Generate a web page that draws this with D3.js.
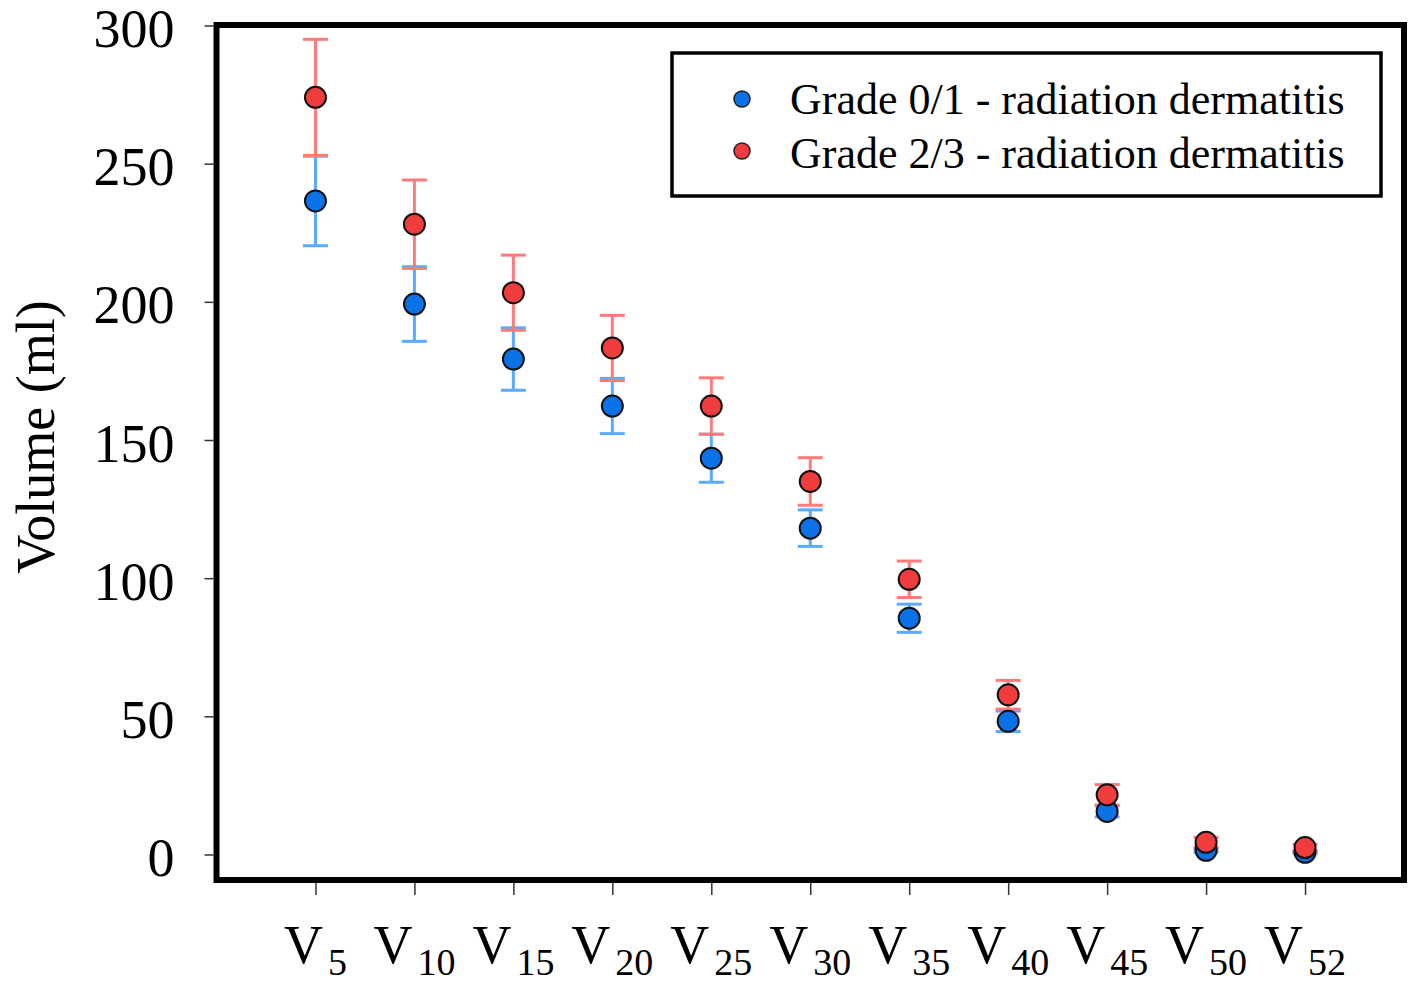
<!DOCTYPE html>
<html>
<head>
<meta charset="utf-8">
<script src="https://cdn.jsdelivr.net/npm/d3@7"></script>
<style>
  body { margin: 0; background: #fff; }
  text { font-family: "Liberation Serif", "Times New Roman", serif; fill: #000; }
</style>
</head>
<body>
<div id="chart"></div>
<script>
// categories: "V" + subscript
const categories = ["5", "10", "15", "20", "25", "30", "35", "40", "45", "50", "52"];
const yTicks = [0, 50, 100, 150, 200, 250, 300];

const seriesNames = ["Grade 0/1 - radiation dermatitis", "Grade 2/3 - radiation dermatitis"];
const grade01Mean = [236.5, 199.2, 179.3, 162.3, 143.4, 118.1, 85.5, 48.2, 15.6, 1.5, 0.8];
const grade01Err  = [16.2, 13.5, 11.3, 10.0, 8.7, 6.6, 5.1, 3.7, 2.0, 0.6, 0.4];
const grade23Mean = [274.0, 228.1, 203.3, 183.3, 162.3, 135.0, 99.6, 57.8, 21.6, 4.4, 2.5];
const grade23Err  = [21.0, 16.0, 13.6, 11.8, 10.2, 8.6, 6.6, 5.2, 3.7, 1.8, 1.2];

const width = 1411, height = 985;
const frame = { left: 216.5, right: 1404, top: 25, bottom: 880 };

const svg = d3.select("#chart")
    .append("svg")
    .attr("width", width)
    .attr("height", height);

const x = d3.scalePoint()
    .domain(categories)
    .range([frame.left, frame.right])
    .padding(1);

const y = d3.scaleLinear()
    .domain([0, 300])
    .range([854.5, 25.5]);

// y axis
const yAxis = svg.append("g")
    .attr("transform", `translate(${frame.left - 3},0)`)
    .call(d3.axisLeft(y).tickValues(yTicks).tickSize(9).tickPadding(30));
yAxis.select(".domain").remove();
yAxis.selectAll(".tick line").attr("stroke", "#333").attr("stroke-width", 1.5);
yAxis.selectAll(".tick text")
    .attr("font-size", 54)
    .attr("dy", 21)
    .attr("font-family", "Liberation Serif, serif");

// x axis
const xAxis = svg.append("g")
    .attr("transform", `translate(0,${frame.bottom + 3})`)
    .call(d3.axisBottom(x).tickSize(12).tickFormat(""));
xAxis.select(".domain").remove();
xAxis.selectAll(".tick line").attr("stroke", "#333").attr("stroke-width", 1.5);

const xLabels = svg.append("g");
categories.forEach(c => {
    const t = xLabels.append("text")
        .attr("x", x(c))
        .attr("y", 963)
        .attr("text-anchor", "middle");
    t.append("tspan").attr("font-size", 54).text("V");
    t.append("tspan").attr("font-size", 38).attr("dx", 5).attr("dy", 12).text(c);
});

// y label
svg.append("text")
    .attr("transform", `translate(54,437) rotate(-90)`)
    .attr("text-anchor", "middle")
    .attr("font-size", 54)
    .text("Volume (ml)");

// frame
svg.append("rect")
    .attr("x", frame.left)
    .attr("y", frame.top)
    .attr("width", frame.right - frame.left)
    .attr("height", frame.bottom - frame.top)
    .attr("fill", "none")
    .attr("stroke", "#000")
    .attr("stroke-width", 6);

const series = [
    { name: seriesNames[0], mean: grade01Mean, err: grade01Err, fill: "#0a72e6", bar: "#5aaaff" },
    { name: seriesNames[1], mean: grade23Mean, err: grade23Err, fill: "#f03c3c", bar: "#ff7b7b" }
];

const capW = 12.5;
series.forEach(s => {
    const g = svg.append("g");
    const rows = categories.map((c, i) => ({ c, m: s.mean[i], e: s.err[i] }));
    g.selectAll("line.v").data(rows).join("line")
        .attr("x1", d => x(d.c)).attr("x2", d => x(d.c))
        .attr("y1", d => y(d.m + d.e)).attr("y2", d => y(d.m - d.e))
        .attr("stroke", s.bar).attr("stroke-width", 3);
    g.selectAll("line.top").data(rows).join("line")
        .attr("x1", d => x(d.c) - capW).attr("x2", d => x(d.c) + capW)
        .attr("y1", d => y(d.m + d.e)).attr("y2", d => y(d.m + d.e))
        .attr("stroke", s.bar).attr("stroke-width", 3);
    g.selectAll("line.bot").data(rows).join("line")
        .attr("x1", d => x(d.c) - capW).attr("x2", d => x(d.c) + capW)
        .attr("y1", d => y(d.m - d.e)).attr("y2", d => y(d.m - d.e))
        .attr("stroke", s.bar).attr("stroke-width", 3);
});

series.forEach(s => {
    svg.append("g").selectAll("circle")
        .data(categories.map((c, i) => ({ c, m: s.mean[i] })))
        .join("circle")
        .attr("cx", d => x(d.c))
        .attr("cy", d => y(d.m))
        .attr("r", 10.5)
        .attr("fill", s.fill)
        .attr("stroke", "#111")
        .attr("stroke-width", 2);
});

// legend
const legend = svg.append("g");
legend.append("rect")
    .attr("x", 672).attr("y", 53)
    .attr("width", 709).attr("height", 143)
    .attr("fill", "#fff")
    .attr("stroke", "#000")
    .attr("stroke-width", 3.5);
series.forEach((s, i) => {
    legend.append("circle")
        .attr("cx", 742).attr("cy", 99 + i * 52)
        .attr("r", 8)
        .attr("fill", s.fill)
        .attr("stroke", "#222")
        .attr("stroke-width", 1.5);
    legend.append("text")
        .attr("x", 790).attr("y", 114 + i * 54)
        .attr("font-size", 44)
        .text(s.name);
});
</script>
</body>
</html>
